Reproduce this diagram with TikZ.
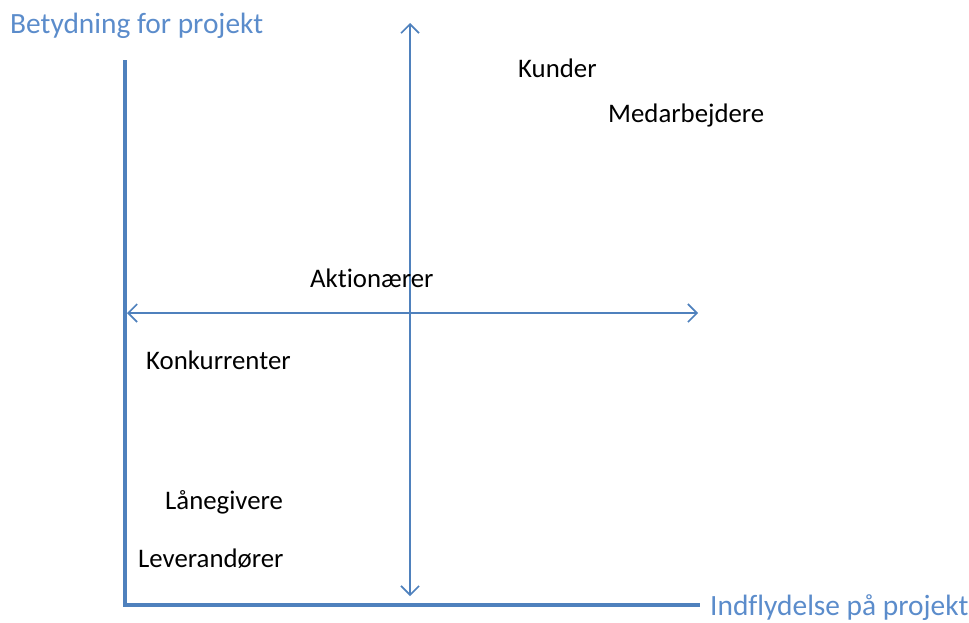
\documentclass[tikz,border=0pt]{standalone}
\usepackage{fontspec}
\setmainfont[Ligatures=CommonOff]{Carlito}
\usetikzlibrary{arrows.meta}
\definecolor{axblue}{HTML}{4F81BD}
\definecolor{lblblue}{HTML}{5B8CCB}
\begin{document}
\begin{tikzpicture}[x=1pt,y=-1pt,
  axis/.style={draw=axblue,line width=4pt},
  dbl/.style={draw=axblue,line width=1.6pt,{Straight Barb[length=9pt,width=18pt,line width=1.6pt]}-{Straight Barb[length=9pt,width=18pt,line width=1.6pt]}},
  lbl/.style={text=lblblue,font=\fontsize{29.4}{33}\selectfont,inner sep=0pt,anchor=base west},
  item/.style={text=black,font=\fontsize{26.8}{31}\selectfont,inner sep=0pt,anchor=base west}]
\useasboundingbox (0,0) rectangle (969,622);
\coordinate (top) at (125,60);
\coordinate (corner) at (125,605);
\coordinate (right) at (700,605);
\draw[axis] (top) -- (corner) -- (right);
\coordinate (vt) at (410,23);
\coordinate (vb) at (410,596);
\coordinate (hl) at (127,313);
\coordinate (hr) at (698,313);
\draw[dbl] (vt) -- (vb);
\draw[dbl] (hl) -- (hr);
\node[lbl] (ylab) at (10,33) {Betydning for projekt};
\node[lbl] (xlab) at (710,615) {Indflydelse på projekt};
\node[item] (kunder) at (518,77) {Kunder};
\node[item] (medarb) at (608,122) {Medarbejdere};
\node[item] (aktion) at (310,287) {Aktionærer};
\node[item] (konk) at (146,369) {Konkurrenter};
\node[item] (lane) at (165,509) {Lånegivere};
\node[item] (lev) at (138,567) {Leverandører};
\end{tikzpicture}
\end{document}
